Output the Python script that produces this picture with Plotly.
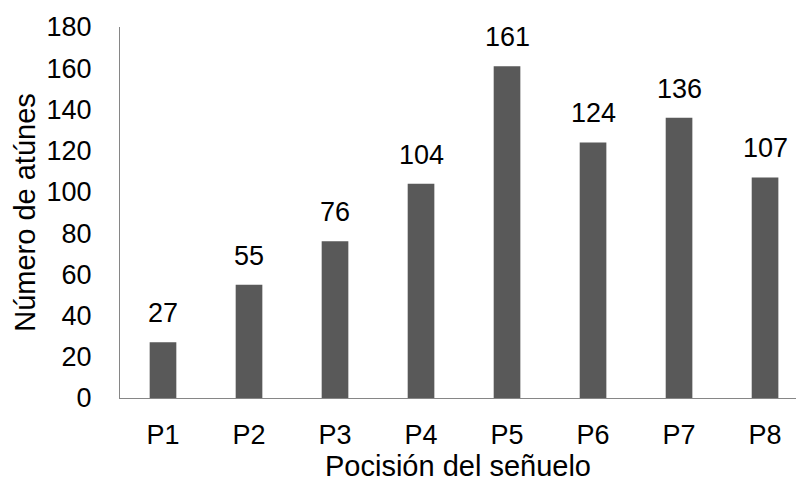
import plotly.graph_objects as go

# Tuna counts per lure position
positions = ["P1", "P2", "P3", "P4", "P5", "P6", "P7", "P8"]
tuna_counts = [27, 55, 76, 104, 161, 124, 136, 107]
y_ticks = [0, 20, 40, 60, 80, 100, 120, 140, 160, 180]

FONT = "Liberation Sans, Arial, sans-serif"
TICK_FS = 27
TITLE_FS = 29
BAR_COLOR = "#595959"
AXIS_COLOR = "#868686"

fig = go.Figure(
    go.Bar(
        x=positions,
        y=tuna_counts,
        marker=dict(color=BAR_COLOR, line=dict(width=0)),
        width=0.31,
        showlegend=False,
        hoverinfo="x+y",
    )
)

# Value labels above each bar
for p, v in zip(positions, tuna_counts):
    fig.add_annotation(
        x=p, y=v, xref="x", yref="y",
        text=str(v), showarrow=False,
        yanchor="bottom", yshift=12,
        font=dict(family=FONT, size=TICK_FS, color="#000000"),
    )

fig.update_layout(
    width=796,
    height=487,
    margin=dict(l=120, r=0, t=27, b=89),
    paper_bgcolor="white",
    plot_bgcolor="white",
    font=dict(family=FONT, size=TICK_FS, color="#000000"),
    xaxis=dict(
        range=[-0.5, 7.36],
        showline=True, linecolor=AXIS_COLOR, linewidth=1,
        showgrid=False, zeroline=False,
        ticks="outside", ticklen=13, tickcolor="rgba(0,0,0,0)",
        tickfont=dict(family=FONT, size=TICK_FS),
        title=dict(text="Pocisión del señuelo", font=dict(family=FONT, size=TITLE_FS), standoff=4),
    ),
    yaxis=dict(
        range=[0, 180],
        tickvals=y_ticks,
        showline=True, linecolor=AXIS_COLOR, linewidth=1,
        showgrid=False, zeroline=False,
        ticks="outside", ticklen=22, tickcolor="rgba(0,0,0,0)",
        tickfont=dict(family=FONT, size=TICK_FS),
        title=dict(text="Número de atúnes", font=dict(family=FONT, size=TITLE_FS), standoff=2),
    ),
)

fig.write_html("out.html")
